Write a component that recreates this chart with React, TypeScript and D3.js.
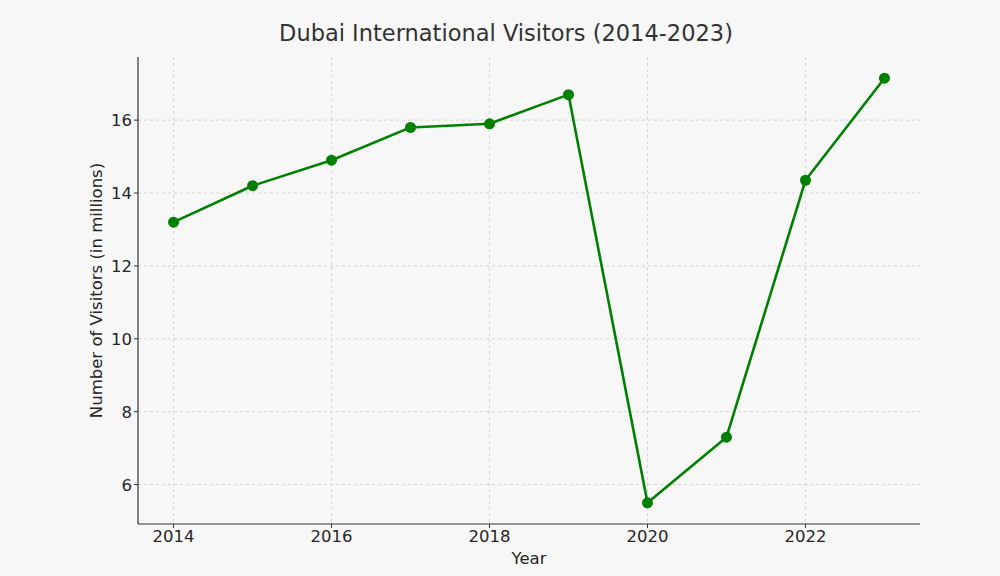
import React from "react";
import * as d3 from "d3";

const years = [2014, 2015, 2016, 2017, 2018, 2019, 2020, 2021, 2022, 2023];
const visitors = [13.2, 14.2, 14.9, 15.8, 15.9, 16.7, 5.5, 7.3, 14.35, 17.15];
const xTicks = [2014, 2016, 2018, 2020, 2022];
const yTicks = [6, 8, 10, 12, 14, 16];

const W = 1000, H = 576;
const left = 138, right = 920, top = 57, bottom = 524;

export default function App() {
  const x = d3.scaleLinear().domain([2013.55, 2023.45]).range([left, right]);
  const y = d3.scaleLinear().domain([4.9175, 17.7325]).range([bottom, top]);
  const line = d3.line<number>().x((_, i) => x(years[i])).y((d) => y(d));
  const font = "DejaVu Sans, sans-serif";
  return (
    <svg width={W} height={H} style={{ position: "absolute", left: 0, top: 0, background: "#f7f7f7" }} fontFamily={font}>
      <rect x={0} y={0} width={W} height={H} fill="#f7f7f7" />
      {xTicks.map((t) => (
        <line key={"gx" + t} x1={x(t)} x2={x(t)} y1={top} y2={bottom} stroke="#cccccc" strokeWidth={0.8} strokeDasharray="3,3" />
      ))}
      {yTicks.map((t) => (
        <line key={"gy" + t} x1={left} x2={right} y1={y(t)} y2={y(t)} stroke="#cccccc" strokeWidth={0.8} strokeDasharray="3,3" />
      ))}
      <line x1={left} x2={left} y1={top} y2={bottom} stroke="#333" strokeWidth={1.2} />
      <line x1={left} x2={right} y1={bottom} y2={bottom} stroke="#333" strokeWidth={1.2} />
      {xTicks.map((t) => (
        <g key={"tx" + t}>
          <line x1={x(t)} x2={x(t)} y1={bottom} y2={bottom + 4} stroke="#333" strokeWidth={1} />
          <text x={x(t)} y={bottom + 18} textAnchor="middle" fontSize={16.5} fill="#262626">{t}</text>
        </g>
      ))}
      {yTicks.map((t) => (
        <g key={"ty" + t}>
          <line x1={left - 4} x2={left} y1={y(t)} y2={y(t)} stroke="#333" strokeWidth={1} />
          <text x={left - 6} y={y(t) + 6} textAnchor="end" fontSize={16.5} fill="#262626">{t}</text>
        </g>
      ))}
      <path d={line(visitors) || ""} fill="none" stroke="#008000" strokeWidth={2.6} strokeLinejoin="round" />
      {visitors.map((v, i) => (
        <circle key={i} cx={x(years[i])} cy={y(v)} r={5.5} fill="#008000" />
      ))}
      <text x={506} y={41} textAnchor="middle" fontSize={22.5} fill="#333">Dubai International Visitors (2014-2023)</text>
      <text x={529} y={564} textAnchor="middle" fontSize={16.5} fill="#262626">Year</text>
      <text transform={`translate(102, ${(top + bottom) / 2}) rotate(-90)`} textAnchor="middle" fontSize={16.5} fill="#262626">Number of Visitors (in millions)</text>
    </svg>
  );
}
